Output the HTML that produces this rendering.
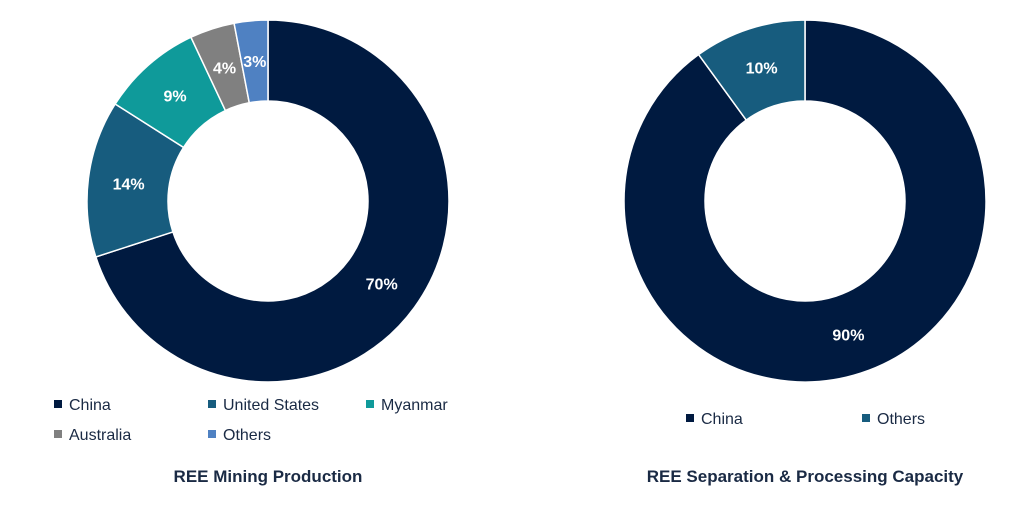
<!DOCTYPE html>
<html><head><meta charset="utf-8"><style>
body{margin:0;background:#fff;width:1024px;height:507px;overflow:hidden}
svg{display:block}
text{font-family:"Liberation Sans",sans-serif}
</style></head><body>
<svg id="c" width="1024" height="507"></svg>
<script>
const leftCats=["China","United States","Myanmar","Australia","Others"];
const leftVals=[70,14,9,4,3];
const leftLabels=["70%","14%","9%","4%","3%"];
const rightCats=["China","Others"];
const rightVals=[90,10];
const rightLabels=["90%","10%"];
const leftColors=["#001a40","#175c7e","#0f9a9a","#808080","#4f81c2"];
const rightColors=["#001a40","#175c7e"];
const svg=document.getElementById('c');
const NS="http://www.w3.org/2000/svg";
function mk(t,a){const e=document.createElementNS(NS,t);for(const k in a)e.setAttribute(k,a[k]);svg.appendChild(e);return e;}
function pt(cx,cy,r,f){const a=f*2*Math.PI;return [cx+r*Math.sin(a),cy-r*Math.cos(a)];}
function donut(cx,cy,ro,ri,vals,cols,labels,cats,prefix){
  const tot=vals.reduce((a,b)=>a+b,0);let acc=0;
  vals.forEach((v,i)=>{
    const f0=acc/tot,f1=(acc+v)/tot;acc+=v;
    const large=(f1-f0)>0.5?1:0;
    const [x0,y0]=pt(cx,cy,ro,f0),[x1,y1]=pt(cx,cy,ro,f1),[x2,y2]=pt(cx,cy,ri,f1),[x3,y3]=pt(cx,cy,ri,f0);
    const p=mk('path',{d:`M${x0},${y0}A${ro},${ro} 0 ${large} 1 ${x1},${y1}L${x2},${y2}A${ri},${ri} 0 ${large} 0 ${x3},${y3}Z`,fill:cols[i],stroke:'#fff','stroke-width':1.5});
    
    
    const [lx,ly]=pt(cx,cy,(ro+ri)/2,(f0+f1)/2);
    const t=mk('text',{x:lx,y:ly+6,'text-anchor':'middle','font-size':16,'font-weight':'bold',fill:'#fff'});
    t.textContent=labels[i];
    
    
  });
}
donut(268,201,181,100,leftVals,leftColors,leftLabels,leftCats,'mining');
donut(805,201,181,100,rightVals,rightColors,rightLabels,rightCats,'processing');
const leftLeg=[[54,404],[208,404],[366,404],[54,434],[208,434]];
const rightLeg=[[686,418],[862,418]];
function legend(cats,cols,pos,prefix){
  cats.forEach((c,i)=>{
    const [x,y]=pos[i];
    const r=mk('rect',{x:x,y:y-4,width:8,height:8,fill:cols[i]});
    
    
    const t=mk('text',{x:x+15,y:y+6,'font-size':16,fill:'#1a2a44'});
    t.textContent=c;
    
    
  });
}
legend(leftCats,leftColors,leftLeg,'mining');
legend(rightCats,rightColors,rightLeg,'processing');
let t=mk('text',{x:268,y:482,'text-anchor':'middle','font-size':17,'font-weight':'bold',fill:'#1a2a44'});
t.textContent="REE Mining Production";


t=mk('text',{x:805,y:482,'text-anchor':'middle','font-size':17,'font-weight':'bold',fill:'#1a2a44'});
t.textContent="REE Separation & Processing Capacity";


</script>
</body></html>
